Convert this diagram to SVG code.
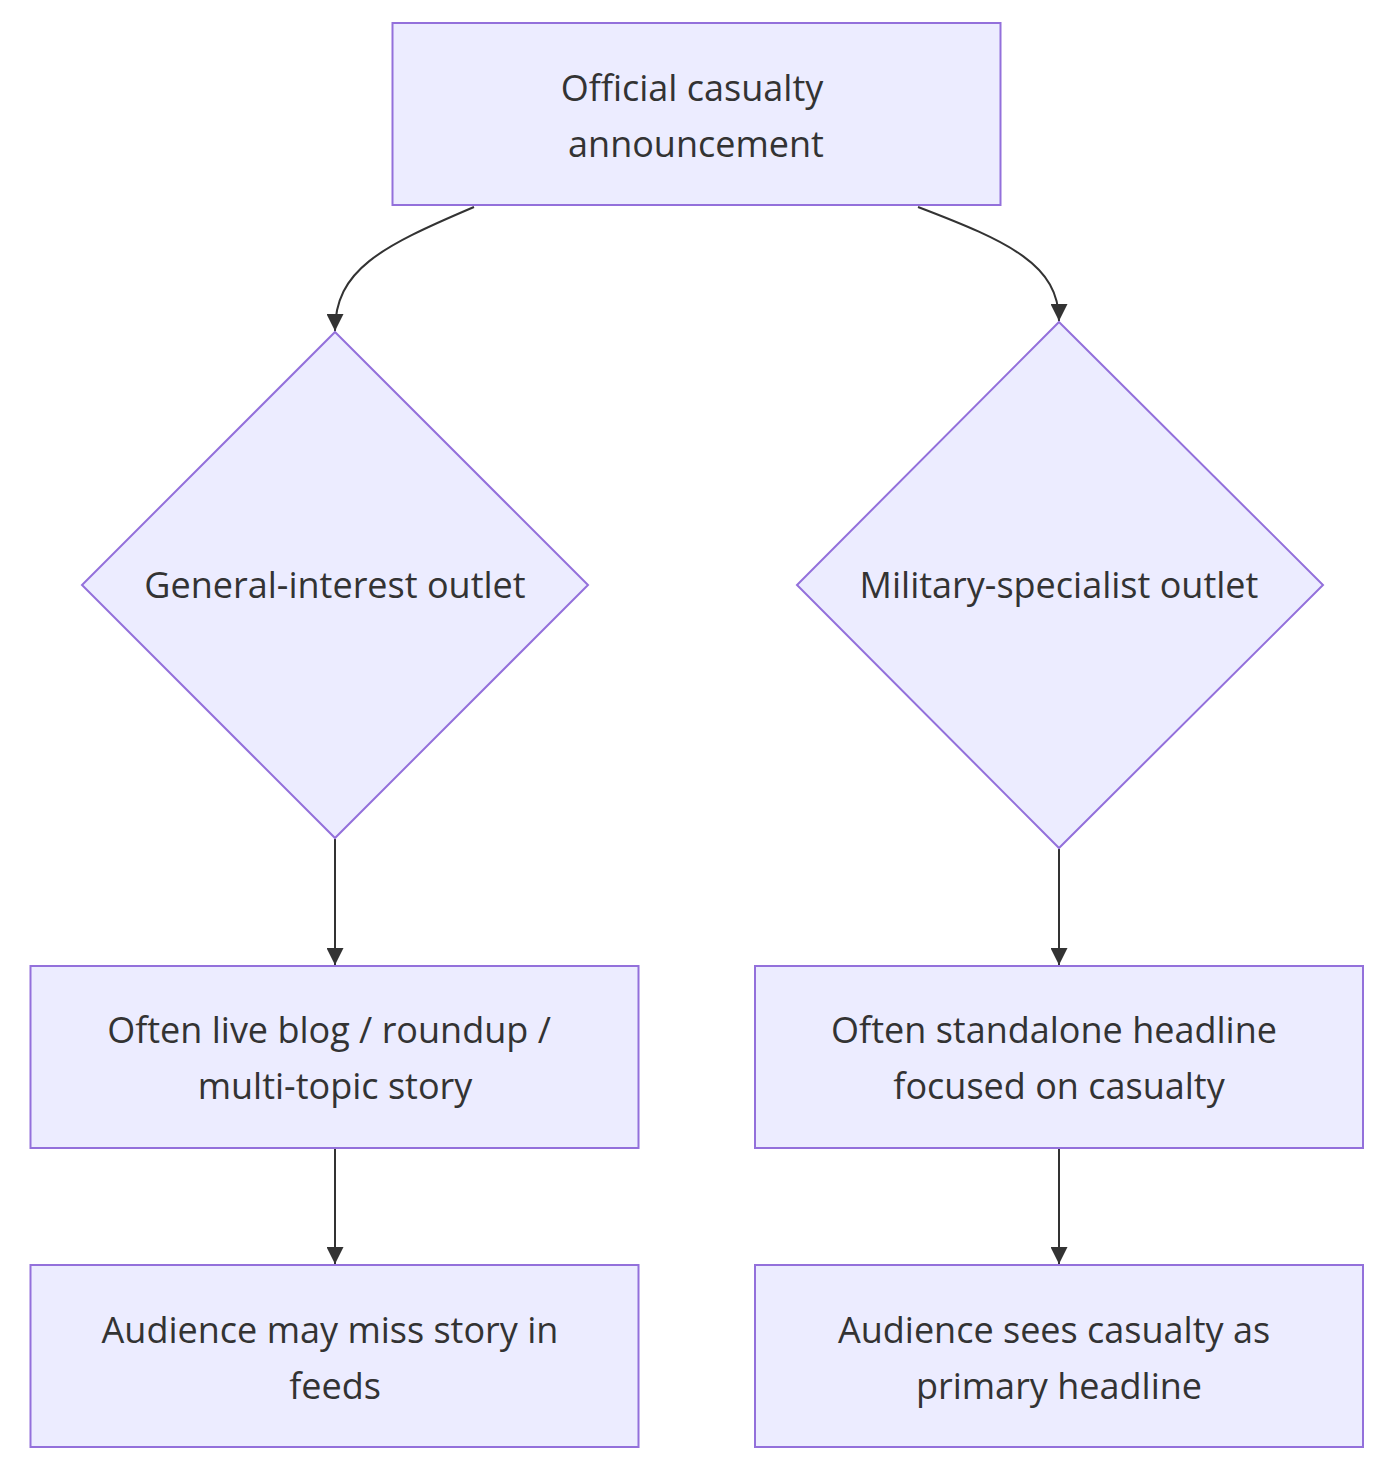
<svg xmlns="http://www.w3.org/2000/svg" width="1397" height="1471" viewBox="0 0 1397 1471">
<style>
.node rect,.node polygon{fill:#ECECFF;stroke:#9370DB;stroke-width:2}
.node text{font-family:"Open Sans","DejaVu Sans",sans-serif;font-size:36px;fill:#333;text-anchor:middle}
.edge{fill:none;stroke:#333;stroke-width:2;marker-end:url(#arr)}
</style>
<defs>
<marker id="arr" viewBox="0 0 10 10" refX="10" refY="5" markerUnits="userSpaceOnUse" markerWidth="17" markerHeight="17" orient="auto">
<path d="M0,0 L10,5 L0,10 z" fill="#333"/>
</marker>
</defs>
<rect width="1397" height="1471" fill="#fff"/>
<g id="edges">
<path class="edge" d="M474,207 C380,247 335,270 335,331"/>
<path class="edge" d="M918,207 C1010,242 1059,265 1059,321"/>
<path class="edge" d="M335,839 L335,965"/>
<path class="edge" d="M1059,849 L1059,965"/>
<path class="edge" d="M335,1148 L335,1264"/>
<path class="edge" d="M1059,1148 L1059,1264"/>
</g>
<g id="A" class="node">
<rect x="392.5" y="23" width="608" height="182"/>
<text x="692" y="101">Official casualty</text>
<text x="696" y="157">announcement</text>
</g>
<g id="B" class="node">
<polygon points="335,332 588,585 335,838 82,585"/>
<text x="335" y="598">General-interest outlet</text>
</g>
<g id="C" class="node">
<polygon points="1059,322 1323,585 1059,848 797,585"/>
<text x="1059" y="598">Military-specialist outlet</text>
</g>
<g id="D" class="node">
<rect x="30.5" y="966" width="608" height="182"/>
<text x="329" y="1043">Often live blog / roundup /</text>
<text x="335" y="1099">multi-topic story</text>
</g>
<g id="E" class="node">
<rect x="755" y="966" width="608" height="182"/>
<text x="1054" y="1043">Often standalone headline</text>
<text x="1059" y="1099">focused on casualty</text>
</g>
<g id="F" class="node">
<rect x="30.5" y="1265" width="608" height="182"/>
<text x="330" y="1343">Audience may miss story in</text>
<text x="335" y="1399">feeds</text>
</g>
<g id="G" class="node">
<rect x="755" y="1265" width="608" height="182"/>
<text x="1054" y="1343">Audience sees casualty as</text>
<text x="1059" y="1399">primary headline</text>
</g>
</svg>
